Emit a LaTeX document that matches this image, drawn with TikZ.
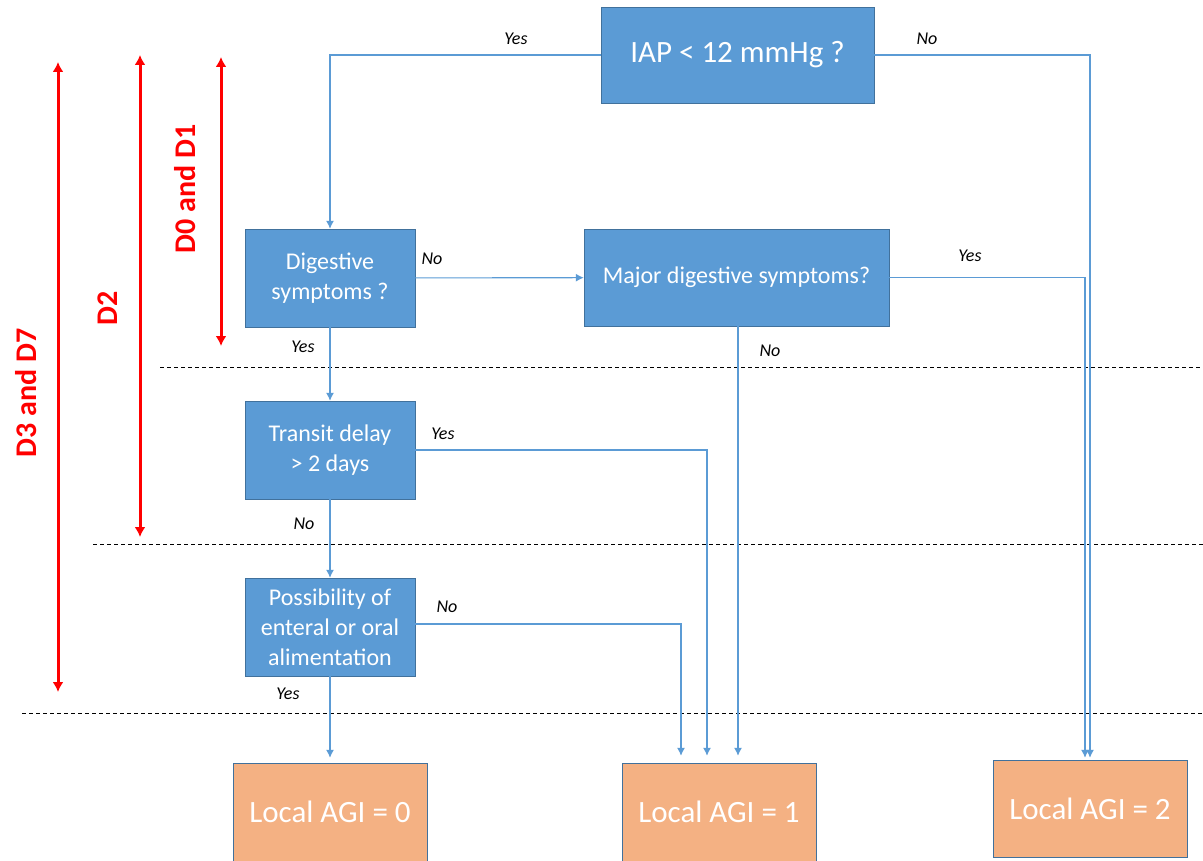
\documentclass[tikz,border=0pt]{standalone}
\usepackage{fontspec}
\setmainfont{Carlito}
\usetikzlibrary{shapes,arrows,arrows.meta,positioning}
\definecolor{boxblue}{HTML}{5B9BD5}
\definecolor{rimblue}{HTML}{41719C}
\definecolor{agiorange}{HTML}{F4B183}
\tikzstyle{block} = [draw=rimblue, fill=boxblue, rectangle, text=white,
    align=center, inner sep=0pt, minimum height=98pt, minimum width=170pt,
    font=\fontsize{24}{30}\selectfont]
\tikzstyle{result} = [draw=rimblue, fill=agiorange, rectangle, text=white,
    inner sep=0pt, minimum height=98pt, minimum width=194pt,
    font=\fontsize{31}{36}\selectfont]
\tikzstyle{flow} = [draw=boxblue, line width=1.1pt, >={Latex[length=8pt,width=8pt]}]
\tikzstyle{answer} = [font=\fontsize{18}{21}\selectfont\itshape]
\tikzstyle{daylabel} = [text=red, rotate=90, font=\fontsize{30}{34}\selectfont\bfseries]
\tikzstyle{period} = [draw=red, line width=3pt, >={Latex[length=10pt,width=11pt]}]
\tikzstyle{cutoff} = [draw=black, line width=1pt, dash pattern=on 4pt off 3pt]

\begin{document}
\begin{tikzpicture}[x=1pt, y=-1pt, >=latex']
    \useasboundingbox (0,0) rectangle (1203,861);
    % We start by placing the blocks
    \node [block, minimum width=273pt, minimum height=96pt,
        font=\fontsize{31}{36}\selectfont] (iap) at (737.5,55) {IAP < 12 mmHg ?};
    \node [block] (digest) at (330,278) {Digestive\\symptoms ?};
    \node [block, minimum width=305pt, minimum height=97pt] (major) at (736.5,277.5)
        {Major digestive symptoms?};
    \node [block, below of=digest, node distance=172pt] (transit) {Transit delay\\> 2 days};
    \node [block, below of=transit, node distance=177pt] (possib)
        {Possibility of\\enteral or oral\\alimentation};
    \node [result] (agizero) at (330,812) {Local AGI = 0};
    \node [result] (agione) at (719,812) {Local AGI = 1};
    \node [result, minimum height=97pt] (agitwo) at (1090,808.5) {Local AGI = 2};

    % the day limits
    \draw [cutoff] (160,367) -- (1203,367);
    \draw [cutoff] (93,544) -- (1203,544);
    \draw [cutoff] (22,713) -- (1203,713);

    % Once the nodes are placed, connecting them is easy.
    \draw [flow,->] (iap.west) -| (digest.north);
    \draw [flow,->,shorten >=2pt] (iap.east) -| (agitwo.north);
    \draw [flow,->,shorten >=2pt] (major.east) -| ([xshift=-5pt]agitwo.north);
    \draw [flow,->] (digest) -- (major);
    \draw [flow,->,shorten >=7pt] ([xshift=1.5pt]major.south) -- ([xshift=19pt]agione.north);
    \draw [flow,->] (digest) -- (transit);
    \draw [flow,->,shorten >=7pt] (transit.east) -| ([xshift=-12pt]agione.north);
    \draw [flow,->] (transit) -- (possib);
    \draw [flow,->,shorten >=7pt] ([yshift=3pt]possib.east) -| ([xshift=-38pt]agione.north);
    \draw [flow,->,shorten >=5pt] (possib) -- (agizero);

    % answers on the branches
    \node [answer] (yesiap) at (516,39) {Yes};
    \node [answer] (noiap) at (927,39) {No};
    \node [answer] (nodigest) at (432,259) {No};
    \node [answer] (yesmajor) at (970,256) {Yes};
    \node [answer] (nomajor) at (770,351) {No};
    \node [answer] (yesdigest) at (303,347) {Yes};
    \node [answer] (yestransit) at (443,434) {Yes};
    \node [answer] (notransit) at (304,524) {No};
    \node [answer] (nopossib) at (447,607) {No};
    \node [answer] (yespossib) at (288,694) {Yes};

    % the red periods on the left
    \coordinate (dsevtop) at (58,62);
    \coordinate (dsevbot) at (58,692);
    \coordinate (dtwotop) at (140,55);
    \coordinate (dtwobot) at (140,537);
    \coordinate (donetop) at (221,57);
    \coordinate (donebot) at (221,346);
    \draw [period,<->] (dsevtop) -- (dsevbot);
    \draw [period,<->] (dtwotop) -- (dtwobot);
    \draw [period,<->] (donetop) -- (donebot);
    \node [daylabel] (dseven) at (26,393) {D3 and D7};
    \node [daylabel] (dtwo) at (108,308) {D2};
    \node [daylabel] (done) at (185,189) {D0 and D1};
\end{tikzpicture}
\end{document}
